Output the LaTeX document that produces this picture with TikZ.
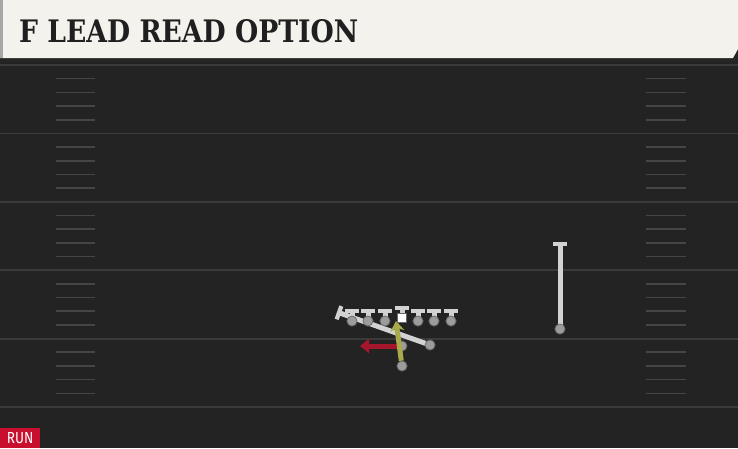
\documentclass[tikz,border=0pt]{standalone}
\usepackage{fontspec}
\usetikzlibrary{arrows.meta}
\newfontfamily\titlefont{DejaVu Serif}[BoldFont=DejaVu Serif Bold]
\newfontfamily\tagfont{Fira Sans}
\definecolor{fieldbg}{HTML}{232323}
\definecolor{yardline}{HTML}{3A3A3A}
\definecolor{hashmark}{HTML}{454545}
\definecolor{titlebg}{HTML}{F4F2EC}
\definecolor{routegray}{HTML}{D2D2D2}
\definecolor{playergray}{HTML}{9C9C9C}
\definecolor{runred}{HTML}{A3162C}
\definecolor{readgreen}{HTML}{A9AA4C}
\definecolor{tagred}{HTML}{C8102E}
\begin{document}
\begin{tikzpicture}[x=1pt, y=-1pt,
    player/.style={circle, fill=playergray, draw=black!60, line width=0.7pt, inner sep=0pt, minimum size=10pt},
    center/.style={rectangle, fill=white, draw=black!60, line width=0.7pt, inner sep=0pt, minimum width=8.5pt, minimum height=9.5pt},
    block/.style={draw=routegray, line width=5pt, -{Bar[width=14pt, line width=4.2pt]}, shorten <=-1pt},
    run/.style={draw=runred, line width=5pt, -{Triangle[width=14pt, length=9pt]}},
    read/.style={draw=readgreen, line width=5pt, -{Stealth[width=14pt, length=10pt, inset=3pt]}}]

    % field and title bar
    \useasboundingbox (0,0) rectangle (738,448);
    \fill[fieldbg] (0,0) rectangle (738,448);
    \foreach \y in {65,133.4,201.8,270.2,338.6,407} {
        \draw[yardline, line width=1.8pt] (0,\y) -- (738,\y);
    }
    \foreach \y in {65,133.4,201.8,270.2,338.6} {
        \foreach \k in {1,2,3,4} {
            \draw[hashmark, line width=1.6pt] (56,\y+\k*13.68) -- (95,\y+\k*13.68);
            \draw[hashmark, line width=1.6pt] (646,\y+\k*13.68) -- (686,\y+\k*13.68);
        }
    }
    \fill[black!85] (0,56) rectangle (738,62);
    \fill[titlebg] (0,0) -- (738,0) -- (738,49) -- (733,58) -- (0,58) -- cycle;
    \fill[black!35] (0,0) rectangle (3,58);
    \node[anchor=west, inner sep=0pt, text=black!88, xscale=0.86] (title) at (19,31.5)
        {\titlefont\bfseries\fontsize{31}{31}\selectfont F LEAD READ OPTION};
    \node[anchor=south west, fill=tagred, text=white, inner sep=0pt, minimum width=40pt, minimum height=20pt] (tag) at (0,448)
        {\tagfont\fontsize{16}{16}\selectfont\scalebox{0.85}[1]{RUN}};

    % line
    \node[player] (lt) at (352,321) {};
    \node[player] (lg) at (368,321) {};
    \node[player] (lc) at (385,321) {};
    \node[center] (c) at (402,318) {};
    \node[player] (rg) at (418,321) {};
    \node[player] (rt) at (434,321) {};
    \node[player] (te) at (451,321) {};
    \coordinate (ltb) at (352,309);
    \coordinate (lgb) at (368,309);
    \coordinate (lcb) at (385,309);
    \coordinate (cb) at (402,306);
    \coordinate (rgb) at (418,309);
    \coordinate (rtb) at (434,309);
    \coordinate (teb) at (451,309);

    % backs and receiver
    \node[player] (f) at (430,345) {};
    \node[player] (t) at (402,346) {};
    \node[player] (q) at (402,366) {};
    \node[player] (x) at (560,329) {};
    \coordinate (fb) at (337,312);
    \coordinate (tb) at (360,346);
    \coordinate (qb) at (396,321);
    \coordinate (xb) at (560,242);

    \path[block] (lt) -- (ltb);
    \path[block] (lg) -- (lgb);
    \path[block] (lc) -- (lcb);
    \path[block] (c) -- (cb);
    \path[block] (rg) -- (rgb);
    \path[block] (rt) -- (rtb);
    \path[block] (te) -- (teb);
    \path[block] (f) -- (fb);
    \path[block] (x) -- (xb);
    \path[run] (t) -- (tb);
    \path[read] (q) -- (qb);

    % players on top
    \node[player] at (lt) {};
    \node[player] at (lg) {};
    \node[player] at (lc) {};
    \node[center] at (c) {};
    \node[player] at (rg) {};
    \node[player] at (rt) {};
    \node[player] at (te) {};
    \node[player] at (f) {};
    \node[player] at (q) {};
    \node[player] at (x) {};
\end{tikzpicture}
\end{document}
